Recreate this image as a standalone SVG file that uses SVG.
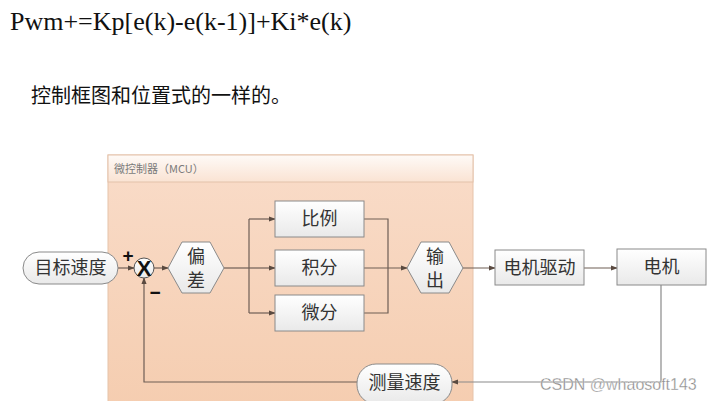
<svg xmlns="http://www.w3.org/2000/svg" width="716" height="401" viewBox="0 0 716 401">
<defs>
<linearGradient id="panelG" x1="0" y1="0" x2="0" y2="1">
<stop offset="0" stop-color="#f9dcc9"/><stop offset="1" stop-color="#f5cdb0"/>
</linearGradient>
<linearGradient id="titleG" x1="0" y1="0" x2="0" y2="1">
<stop offset="0" stop-color="#fefaf7"/><stop offset="1" stop-color="#fae3d3"/>
</linearGradient>
<linearGradient id="boxG" x1="0" y1="0" x2="0" y2="1">
<stop offset="0" stop-color="#ffffff"/><stop offset="1" stop-color="#e9e9e9"/>
</linearGradient>
<marker id="arr" viewBox="0 0 8 8" refX="7" refY="4" markerWidth="7" markerHeight="7" markerUnits="userSpaceOnUse" orient="auto">
<path d="M0,1 L8,4 L0,7 Z" fill="#5a4a40"/>
</marker>
<style>
.box{fill:url(#boxG);stroke:#8a8a8a;stroke-width:1}
.t{font-family:"Noto Sans CJK SC","Noto Sans",sans-serif;font-size:18px;fill:#333;text-anchor:middle}
.c{fill:none;stroke:#6e5e55;stroke-width:1.2}
.ca{fill:none;stroke:#6e5e55;stroke-width:1.2;marker-end:url(#arr)}
.fb{fill:none;stroke:#8a8a8a;stroke-width:1.2}
.sg{font-family:"Liberation Sans",sans-serif;font-weight:bold;fill:#111;text-anchor:middle}
</style>
</defs>
<rect width="716" height="401" fill="#ffffff"/>
<text x="10" y="30" font-family="Liberation Serif, serif" font-size="26" fill="#111">Pwm+=Kp[e(k)-e(k-1)]+Ki*e(k)</text>
<text x="31" y="103" font-family="'Noto Sans CJK SC', sans-serif" font-size="20" fill="#111">控制框图和位置式的一样的。</text>

<g id="mcu">
<rect x="108" y="155" width="365" height="252" fill="url(#panelG)" stroke="#e6c3aa"/>
<rect x="108" y="155" width="365" height="27" fill="url(#titleG)" stroke="#e3c2aa"/>
<text x="114" y="173" font-family="'Noto Sans CJK SC', sans-serif" font-size="11" fill="#7a7a7a">微控制器（MCU）</text>
</g>

<g id="connectors">
<line class="ca" x1="118" y1="268" x2="134" y2="268"/>
<line class="ca" x1="154" y1="268" x2="168" y2="268"/>
<polyline class="c" points="224,268 249,268"/>
<line class="c" x1="249" y1="219" x2="249" y2="313"/>
<line class="ca" x1="249" y1="219" x2="275" y2="219"/>
<line class="ca" x1="249" y1="268" x2="275" y2="268"/>
<line class="ca" x1="249" y1="313" x2="275" y2="313"/>
<polyline class="c" points="364,219 388,219 388,313 364,313"/>
<line class="ca" x1="364" y1="268" x2="407" y2="268"/>
<line class="ca" x1="462" y1="268" x2="495" y2="268"/>
<line class="ca" x1="584" y1="268" x2="617" y2="268"/>
<polyline class="fb" points="661,285 661,382 452,382" marker-end="url(#arr)"/>
<polyline class="ca" points="357,382 144,382 144,278"/>
</g>

<g id="target">
<rect class="box" x="23" y="252" width="95" height="32" rx="16"/>
<text class="t" x="70.5" y="274">目标速度</text>
</g>

<g id="sum">
<circle cx="144" cy="268" r="10" fill="url(#boxG)" stroke="#555" stroke-width="1"/>
<text class="sg" x="144" y="276" font-size="22">X</text>
<text class="sg" x="128" y="262" font-size="19">+</text>
<text class="sg" x="155" y="299" font-size="19">−</text>
</g>

<g id="error">
<polygon class="box" points="168,268 182,242 210,242 224,268 210,293 182,293"/>
<text class="t" x="196" y="263">偏</text>
<text class="t" x="196" y="287">差</text>
</g>

<g id="p">
<rect class="box" x="275" y="201" width="89" height="36"/>
<text class="t" x="319.5" y="225">比例</text>
</g>
<g id="i">
<rect class="box" x="275" y="250" width="89" height="36"/>
<text class="t" x="319.5" y="274">积分</text>
</g>
<g id="d">
<rect class="box" x="275" y="295" width="89" height="36"/>
<text class="t" x="319.5" y="319">微分</text>
</g>

<g id="output">
<polygon class="box" points="407,268 421,242 449,242 463,268 449,293 421,293"/>
<text class="t" x="435" y="263">输</text>
<text class="t" x="435" y="287">出</text>
</g>

<g id="driver">
<rect class="box" x="495" y="250" width="89" height="35"/>
<text class="t" x="539.5" y="274">电机驱动</text>
</g>
<g id="motor">
<rect class="box" x="617" y="249" width="89" height="36"/>
<text class="t" x="661.5" y="273">电机</text>
</g>

<g id="measure">
<rect class="box" x="357" y="364" width="95" height="40" rx="19"/>
<text class="t" x="404.5" y="389">测量速度</text>
</g>

<text x="540" y="390" font-family="'Liberation Sans', sans-serif" font-size="16" fill="#8a8a8a" stroke="#ffffff" stroke-width="0.3">CSDN @whaosoft143</text>
</svg>
